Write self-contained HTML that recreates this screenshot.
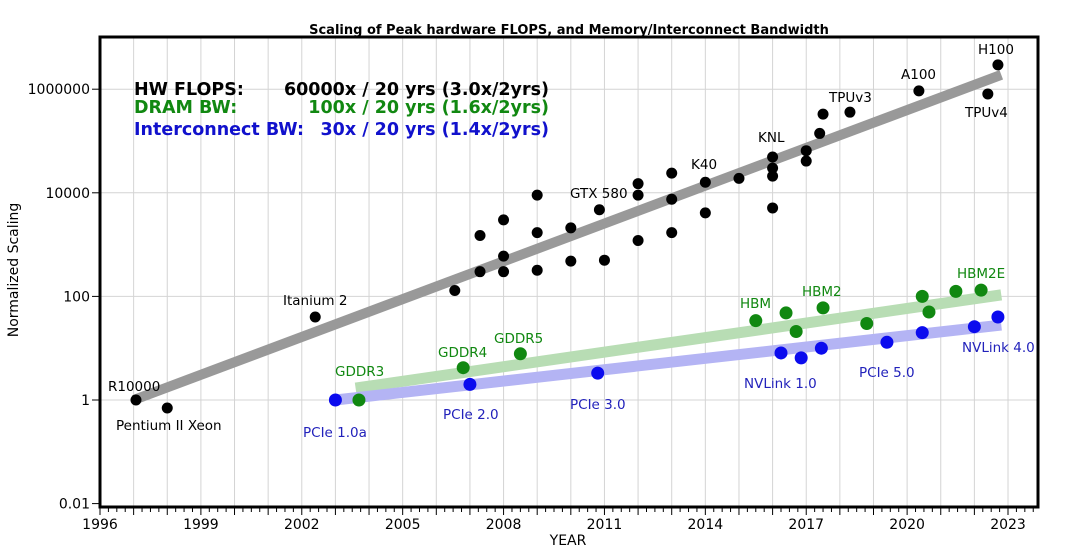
<!DOCTYPE html>
<html><head><meta charset="utf-8"><style>
body{margin:0;background:#fff}
svg{display:block;font-family:"DejaVu Sans","Liberation Sans",sans-serif}
</style></head><body>
<svg id="chart" width="1080" height="553" viewBox="0 0 1080 553" xmlns="http://www.w3.org/2000/svg">
<g id="grid"></g>
<g id="trends"></g>
<g id="points"></g>
<g id="axes"></g>
<text x="569" y="34" text-anchor="middle" font-size="13" font-weight="bold">Scaling of Peak hardware FLOPS, and Memory/Interconnect Bandwidth</text>
<text transform="translate(18,270) rotate(-90)" text-anchor="middle" font-size="14">Normalized Scaling</text>
<text x="568" y="545" text-anchor="middle" font-size="14">YEAR</text>
<g font-size="17.5" font-weight="bold">
<text x="134" y="95" fill="#000">HW FLOPS:</text>
<text x="549" y="95" text-anchor="end" fill="#000">60000x / 20 yrs (3.0x/2yrs)</text>
<text x="134" y="113" fill="#118811">DRAM BW:</text>
<text x="549" y="113" text-anchor="end" fill="#118811">100x / 20 yrs (1.6x/2yrs)</text>
<text x="134" y="135" fill="#1111cc">Interconnect BW:</text>
<text x="549" y="135" text-anchor="end" fill="#1111cc">30x / 20 yrs (1.4x/2yrs)</text>
</g>
<g id="labels" font-size="13.5"></g>
</svg>
<script>
const flopsYears=[1997.07,1998,2002.4,2006.55,2007.3,2007.3,2008,2008,2008,2009,2009,2009,2010,2010,2010.85,2011,2012,2012,2012,2013,2013,2013,2014,2014,2015,2016,2016,2016,2016,2017,2017,2017.4,2017.5,2018.3,2020.35,2022.4,2022.7];
const flopsValues=[1,0.7,40,130,300,1500,300,600,3000,320,1700,9000,480,2100,4700,500,1200,9000,15000,1700,7500,24000,4100,16000,19000,5100,21000,30000,49000,41000,65000,140000,330000,360000,930000,810000,2950000];
const dramYears=[2003.7,2006.8,2008.5,2015.5,2016.4,2016.7,2017.5,2018.8,2020.45,2020.65,2021.45,2022.2];
const dramValues=[1,4.2,7.8,34,48,21,60,30,100,50,125,132];
const icYears=[2003,2007,2010.8,2016.25,2016.85,2017.45,2019.4,2020.45,2022,2022.7];
const icValues=[1,2.0,3.3,8.1,6.5,10,13,20,26,40];
const trendYears=[[1997,2022.8],[2003.6,2022.8],[2003,2022.8]];
const trendValues=[[1,1.9e6],[1.7,107],[1,28]];
const xTicks=[1996,1999,2002,2005,2008,2011,2014,2017,2020,2023];
const yTicks=[0.01,1,100,10000,1000000];
const yTickLabels=["0.01","1","100","10000","1000000"];
const labelTexts=["R10000","Pentium II Xeon","Itanium 2","GTX 580","K40","KNL","TPUv3","A100","H100","TPUv4","GDDR3","GDDR4","GDDR5","HBM","HBM2","HBM2E","PCIe 1.0a","PCIe 2.0","PCIe 3.0","NVLink 1.0","PCIe 5.0","NVLink 4.0"];

const NS="http://www.w3.org/2000/svg";
const X0=100,X1=1038,Y0=507,YT=37;
const x=y=>100+(y-1996)*33.63;
const yv=v=>400-Math.log10(v)*51.8;
function mk(tag,attrs,parent){const e=document.createElementNS(NS,tag);for(const k in attrs)e.setAttribute(k,attrs[k]);parent.appendChild(e);return e;}
const grid=document.getElementById('grid'),axes=document.getElementById('axes'),tr=document.getElementById('trends'),pts=document.getElementById('points'),lab=document.getElementById('labels');
for(let yr=1997;yr<=2023;yr++){const g=mk('line',{x1:x(yr),x2:x(yr),y1:YT,y2:Y0,stroke:'#d4d4d4','stroke-width':1},grid);

}
yTicks.forEach((v,i)=>{if(i>0){const g=mk('line',{x1:X0,x2:X1,y1:yv(v),y2:yv(v),stroke:'#d4d4d4','stroke-width':1},grid);

}
const t=mk('line',{x1:X0-8,x2:X0,y1:yv(v),y2:yv(v),stroke:'#000','stroke-width':1},axes);


const l=mk('text',{x:X0-10,y:yv(v)+5,'text-anchor':'end','font-size':14},axes);l.textContent=yTickLabels[i];

});
for(let q=0;q<=111;q++){const yr=1996+q/4;const major=q%4===0;const t=mk('line',{x1:x(yr),x2:x(yr),y1:Y0,y2:Y0+(major?8:5),stroke:'#000','stroke-width':1},axes);

}
xTicks.forEach(v=>{const l=mk('text',{x:x(v),y:Y0+22,'text-anchor':'middle','font-size':14},axes);l.textContent=v;

});
const fr=mk('rect',{x:X0,y:YT,width:X1-X0,height:Y0-YT,fill:'none',stroke:'#000','stroke-width':3},axes);


const tcol=['#999999','#b8ddb4','#b4b4f4'],tw=[10,11,11],tn=['flops-trend','dram-trend','interconnect-trend'];
trendYears.forEach((ys,i)=>{const l=mk('line',{x1:x(ys[0]),y1:yv(trendValues[i][0]),x2:x(ys[1]),y2:yv(trendValues[i][1]),stroke:tcol[i],'stroke-width':tw[i]},tr);

});
function dots(ys,vs,col,r,name){ys.forEach((yr,i)=>{const c=mk('circle',{cx:x(yr),cy:yv(vs[i]),r:r,fill:col},pts);

});}
dots(flopsYears,flopsValues,'#000',5.5,'flops-point');
dots(dramYears,dramValues,'#118811',6.5,'dram-point');
dots(icYears,icValues,'#0b0bee',6.5,'interconnect-point');
const lp=[[108,391,'#000'],[116,430,'#000'],[283,305,'#000'],[570,198,'#000'],[691,169,'#000'],[758,142,'#000'],[829,102,'#000'],[901,79,'#000'],[978,54,'#000'],[965,117,'#000'],[335,376,'#118811'],[438,357,'#118811'],[494,343,'#118811'],[740,308,'#118811'],[802,296,'#118811'],[957,278,'#118811'],[303,437,'#2222bb'],[443,419,'#2222bb'],[570,409,'#2222bb'],[744,388,'#2222bb'],[859,377,'#2222bb'],[962,352,'#2222bb']];
labelTexts.forEach((s,i)=>{const t=mk('text',{x:lp[i][0],y:lp[i][1],fill:lp[i][2]},lab);t.textContent=s;

});
</script>
</body></html>
